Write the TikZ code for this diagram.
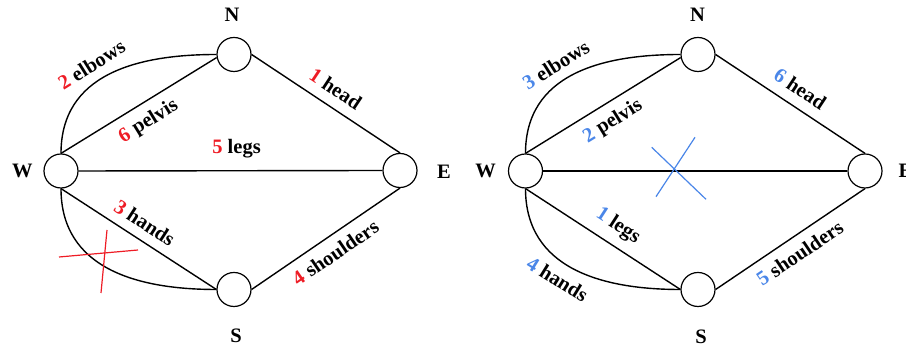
\documentclass[tikz,border=0pt]{standalone}
\usepackage{fontspec}
\setmainfont{Liberation Serif}
\usepackage{tikz}
\usetikzlibrary{positioning}
\definecolor{numred}{HTML}{EE1C25}
\definecolor{numblue}{HTML}{4A86E8}
\newcommand{\rnum}[1]{\textcolor{numred}{#1}}
\newcommand{\bnum}[1]{\textcolor{numblue}{#1}}

\begin{document}
\begin{tikzpicture}[
  x=1pt, y=1pt,
  vtx/.style={circle, draw, line width=1.2pt, minimum size=34pt, inner sep=0pt},
  side/.style={font=\bfseries\fontsize{20.5}{24}\selectfont, inner sep=0pt},
  edge/.style={line width=1.4pt},
  lbl/.style={font=\bfseries\fontsize{20.5}{24}\selectfont, sloped, inner sep=3pt},
  xred/.style={draw=numred, line width=1.2pt},
  xblue/.style={draw=numblue, line width=1.2pt}
]
\useasboundingbox (0,0) rectangle (906,350);

% ── Left graph ────────────────────────────────────────────────
\node[vtx] (W1) at (61,179) {};
\node[vtx] (N1) at (234,295.5) {};
\node[vtx] (E1) at (400,179.5) {};
\node[vtx] (S1) at (234,60.5) {};
\node[side] (lW1) at (22.5,179) {W};
\node[side] (lN1) at (232,335) {N};
\node[side] (lE1) at (444,178.5) {E};
\node[side] (lS1) at (236,14) {S};

\draw[edge] (W1.north) to[out=90, in=180, looseness=1.1]
  node[lbl, above=6pt, pos=0.45] {\rnum{2} elbows} (N1.west);
\draw[edge] (W1.north) -- node[lbl, below=6pt, pos=0.5] {\rnum{6} pelvis} (N1.190);
\draw[edge] (N1.east) -- node[lbl, above=7pt, pos=0.5] {\rnum{1} head} (E1.north);
\draw[edge] (W1.east) -- node[lbl, above=9pt, pos=0.52] {\rnum{5} legs} (E1.west);
\draw[edge] (W1.south) -- node[lbl, above=6pt, pos=0.48] {\rnum{3} hands} (S1.west);
\draw[edge] (W1.south) to[out=-90, in=180, looseness=1.1] (S1.west);
\draw[edge] (S1.east) -- node[lbl, below=6pt, pos=0.5] {\rnum{4} shoulders} (E1.south);

% ── Right graph ───────────────────────────────────────────────
\node[vtx] (W2) at (525.5,179) {};
\node[vtx] (N2) at (698,295.5) {};
\node[vtx] (E2) at (865,179) {};
\node[vtx] (S2) at (698,60.5) {};
\node[side] (lW2) at (485.5,179) {W};
\node[side] (lN2) at (697.5,335) {N};
\node[side] (lE2) at (905.5,179) {E};
\node[side] (lS2) at (701,13.5) {S};

\draw[edge] (W2.north) to[out=90, in=180, looseness=1.1]
  node[lbl, above=6pt, pos=0.45] {\bnum{3} elbows} (N2.west);
\draw[edge] (W2.north) -- node[lbl, below=6pt, pos=0.5] {\bnum{2} pelvis} (N2.190);
\draw[edge] (N2.east) -- node[lbl, above=7pt, pos=0.5] {\bnum{6} head} (E2.north);
\draw[edge] (W2.east) -- (E2.west);
\draw[edge] (W2.south) -- node[lbl, above=6pt, pos=0.53] {\bnum{1} legs} (S2.west);
\draw[edge] (W2.south) to[out=-90, in=180, looseness=1.1]
  node[lbl, below=6pt, pos=0.46] {\bnum{4} hands} (S2.west);
\draw[edge] (S2.east) -- node[lbl, below=6pt, pos=0.5] {\bnum{5} shoulders} (E2.south);

% ── Crosses ───────────────────────────────────────────────────
\coordinate (cutL) at (104,97);
\coordinate (cutR) at (674.5,180);
\draw[xred] (cutL) ++(-45,-4) -- ++(79,7);
\draw[xred] (cutL) ++(3,23) -- ++(-6,-63);
\draw[xblue] (cutR) ++(-22.8,22.7) -- ++(54.3,-52);
\draw[xblue] (cutR) ++(20.5,32.7) -- ++(-39,-59.4);
\end{tikzpicture}
\end{document}
